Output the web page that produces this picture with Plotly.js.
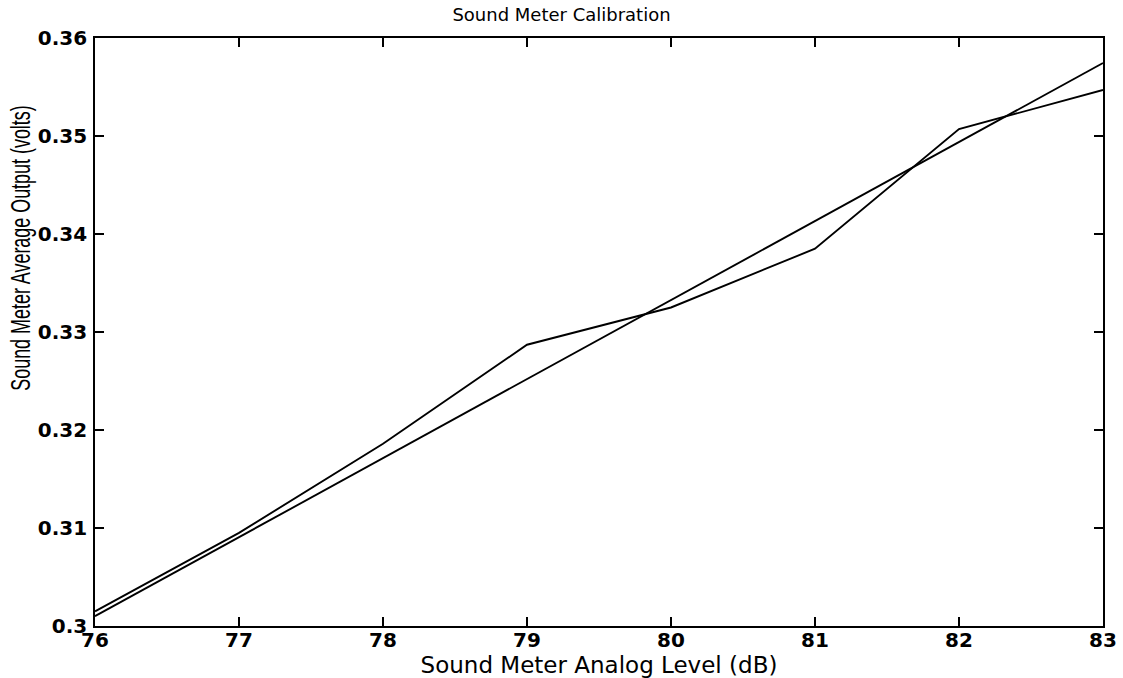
<!DOCTYPE html>
<html><head><meta charset="utf-8">
<script src="https://cdn.plot.ly/plotly-3.0.1.min.js"></script>
<style>body{margin:0;background:#fff}#c{width:1123px;height:678px}</style>
</head><body><div id="c"></div>
<script>
const levels = [76, 77, 78, 79, 80, 81, 82, 83];
const measured = [0.3015, 0.3095, 0.3186, 0.3287, 0.3325, 0.3385, 0.3507, 0.3547];
const fitEnds = [76, 83];
const fitValues = [0.3010, 0.35745];
const yTickVals = [0.30, 0.31, 0.32, 0.33, 0.34, 0.35, 0.36];
const yTickText = ['0.3', '0.31', '0.32', '0.33', '0.34', '0.35', '0.36'];

const lineStyle = {color: '#000', width: 1.9};
const data = [
  {x: levels, y: measured, mode: 'lines', line: lineStyle, showlegend: false, hoverinfo: 'none'},
  {x: fitEnds, y: fitValues, mode: 'lines', line: lineStyle, showlegend: false, hoverinfo: 'none'}
];
const wide = 'DejaVu Sans, Verdana, sans-serif';
const layout = {
  width: 1123, height: 678,
  margin: {l: 95, r: 20, t: 38, b: 52},
  paper_bgcolor: '#fff', plot_bgcolor: '#fff',
  title: {text: 'Sound Meter Calibration', x: 0.5, xanchor: 'center', y: 0.988, yanchor: 'top',
          font: {family: wide, size: 18, color: '#000'}},
  xaxis: {
    range: [76, 83], tickvals: levels, ticktext: levels.map(String),
    ticks: 'inside', ticklen: 9, tickwidth: 1.5, tickcolor: '#000',
    showline: true, linecolor: '#000', linewidth: 1.8, mirror: 'ticks',
    showgrid: false, zeroline: false, ticklabelstandoff: -5,
    tickfont: {family: wide, size: 20, weight: 'bold', color: '#000'},
    title: {text: 'Sound Meter Analog Level (dB)', standoff: 4, font: {family: wide, size: 23, color: '#000'}}
  },
  yaxis: {
    range: [0.30, 0.36], tickvals: yTickVals, ticktext: yTickText,
    ticks: 'inside', ticklen: 9, tickwidth: 1.5, tickcolor: '#000',
    showline: true, linecolor: '#000', linewidth: 1.8, mirror: 'ticks',
    showgrid: false, zeroline: false, ticklabelstandoff: 2,
    tickfont: {family: wide, size: 20, weight: 'bold', color: '#000'},
    title: {text: 'Sound Meter Average Output (volts)', standoff: 6, font: {family: 'Liberation Sans, Arial, sans-serif', size: 28, color: '#000'}}
  }
};
Plotly.newPlot('c', data, layout, {staticPlot: true}).then(function () {
  // condensed look of the original y-axis title
  const t = document.querySelector('.g-ytitle text');
  if (t) {
    const cx = 28, cy = 248, sx = 0.64;
    t.setAttribute('x', cx);
    t.setAttribute('y', cy);
    t.setAttribute('transform',
      'rotate(-90,' + cx + ',' + cy + ') translate(' + cx + ',' + cy + ') scale(' + sx + ',1) translate(' + (-cx) + ',' + (-cy) + ')');
  }
});
</script></body></html>
